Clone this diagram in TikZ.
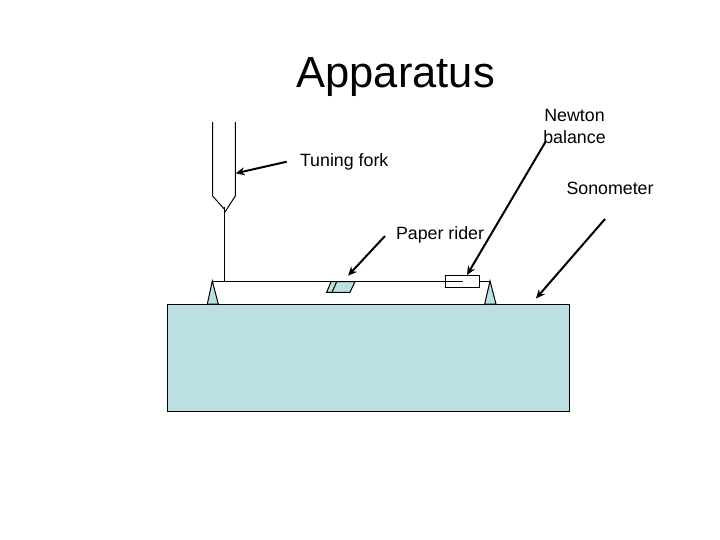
\documentclass[tikz,border=0pt]{standalone}
\usepackage{fontspec}
\setmainfont{Liberation Sans}
\usetikzlibrary{arrows.meta}
\definecolor{boardblue}{HTML}{BBDFE2}
\tikzset{
  part/.style={draw=black,line width=1pt},
  filledpart/.style={part,fill=boardblue,line join=miter},
  pointer/.style={draw=black,line width=2pt,-{Stealth[length=9pt,width=8pt]}},
  label/.style={anchor=base west,inner sep=0pt,outer sep=0pt,font=\fontsize{17.8}{22}\selectfont,align=center},
  heading/.style={anchor=base west,inner sep=0pt,outer sep=0pt,font=\fontsize{43.5}{50}\selectfont}
}
\begin{document}
\begin{tikzpicture}[x=1pt,y=-1pt]
\useasboundingbox (0,0) rectangle (720,540);
% texts
\node[heading] (title) at (296.5,88) {Apparatus};
\node[label] (forklabel) at (300,167) {Tuning fork};
\node[label] (sonolabel) at (566.5,195) {Sonometer};
\node[label] (riderlabel) at (396,240) {Paper rider};
\node[label,anchor=center] (newtonlabel) at (574.5,126) {Newton\\balance};
% board and bridges
\node[filledpart,minimum width=402.5pt,minimum height=107pt,inner sep=0pt,outer sep=0pt,anchor=north west] (board) at (167,304) {};
\path[filledpart] (212.3,281) -- (207.3,304) -- (218.3,304) -- cycle;
\path[filledpart] (490,281) -- (484.7,304) -- (496,304) -- cycle;
% tuning fork
\draw[part] (212.5,122) -- (212.5,196) -- (224.3,209);
\draw[part] (235.3,122) -- (235.3,196) -- (224.3,213);
\coordinate (stemtop) at (224.3,207);
\coordinate (stembottom) at (224.3,281);
\draw[part] (stemtop) -- (stembottom);
% balance
\node[part,minimum width=34.5pt,minimum height=12pt,inner sep=0pt,outer sep=0pt,anchor=west] (balance) at (445.3,281) {};
\coordinate (stringleft) at (212.3,281);
\coordinate (stringright) at (490,281);
\coordinate (balanceinner) at (462.7,281);
\draw[part] (stringleft) -- (balance.west);
\draw[part] (balance.west) -- (balanceinner);
\draw[part] (balance.east) -- (stringright);
% paper rider
\path[filledpart] (331,281.7) -- (355,281.7) -- (350,292.3) -- (326.7,292.3) -- cycle;
\draw[part] (336.7,281.7) -- (332,292.3);
% pointers
\coordinate (forkfrom) at (286.7,161.7);
\coordinate (forkto) at (235.7,173.3);
\coordinate (newtonfrom) at (546,141);
\coordinate (newtonto) at (467,275);
\coordinate (riderfrom) at (385,236);
\coordinate (riderto) at (348,275.7);
\coordinate (sonofrom) at (605,219);
\coordinate (sonoto) at (536,298.5);
\draw[pointer] (forkfrom) -- (forkto);
\draw[pointer] (newtonfrom) -- (newtonto);
\draw[pointer] (riderfrom) -- (riderto);
\draw[pointer] (sonofrom) -- (sonoto);
\end{tikzpicture}
\end{document}
